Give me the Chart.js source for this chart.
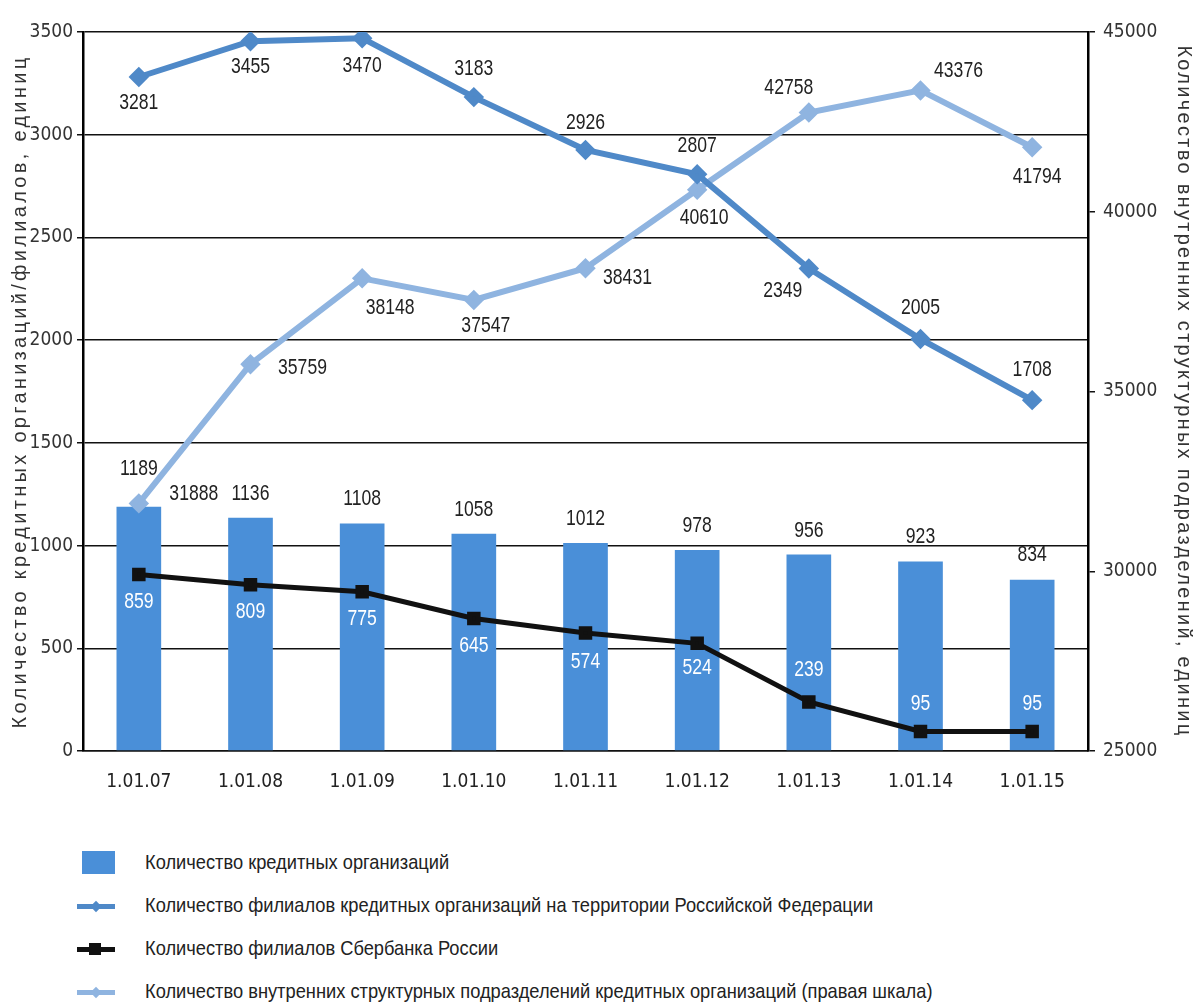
<!DOCTYPE html>
<html>
<head>
<meta charset="utf-8">
<script src="https://cdn.jsdelivr.net/npm/chart.js@4.4.1/dist/chart.umd.min.js"></script>
<style>
body{margin:0;background:#fff;}
#wrap{position:relative;width:1198px;height:1003px;}
#chartBox{position:absolute;left:0;top:0;width:1198px;height:830px;}
#legend{position:absolute;left:0;top:848px;width:1198px;}
.lrow{position:absolute;left:0;height:30px;width:1100px;}
.lico{position:absolute;left:77px;top:0;width:40px;height:30px;}
.ltxt{position:absolute;left:145px;top:2px;font:21px 'Liberation Sans',Arial,sans-serif;color:#222;white-space:nowrap;transform:scaleX(0.87);transform-origin:0 50%;}
</style>
</head>
<body>
<div id="wrap">
  <div id="chartBox"><canvas id="myChart" width="1198" height="830"></canvas></div>
  <div id="legend"></div>
</div>
<script>
const narrow="'Liberation Sans Narrow','DejaVu Sans Condensed','Arial Narrow',sans-serif"
const regular="'Liberation Sans',Arial,sans-serif"

// data
const categories=['1.01.07','1.01.08','1.01.09','1.01.10','1.01.11','1.01.12','1.01.13','1.01.14','1.01.15']
const creditOrgs=[1189,1136,1108,1058,1012,978,956,923,834]
const branchesRF=[3281,3455,3470,3183,2926,2807,2349,2005,1708]
const sberBranches=[859,809,775,645,574,524,239,95,95]
const internalUnits=[31888,35759,38148,37547,38431,40610,42758,43376,41794]

// where each value label sits relative to its point (px)
const orgLabelPos=[[0,-38],[0,-24],[0,-24],[0,-24],[0,-24],[0,-24],[0,-24],[0,-24],[0,-25]]
const branchLabelPos=[[0,26],[0,26],[0,28],[0,-28],[0,-27],[0,-28],[-26,22],[0,-31],[0,-30]]
const sberLabelPos=[[0,27],[0,27],[0,27],[0,27],[0,29],[0,25],[0,-32],[0,-28],[0,-28]]
const unitLabelPos=[[55,-9],[52,4],[28,30],[12,26],[42,10],[7,28],[-20,-25],[38,-19],[5,30]]

const ctx=document.getElementById('myChart')

const valueLabels={
  id:'valueLabels',
  afterDatasetsDraw(chart){
    const c=chart.ctx
    chart.data.datasets.forEach((ds,i)=>{
      const meta=chart.getDatasetMeta(i)
      meta.data.forEach((el,j)=>{
        const off=ds.labelPos[j]
        c.save()
        c.translate(el.x+off[0],el.y+off[1])
        c.scale(0.8,1)
        c.textAlign='center'
        c.textBaseline='middle'
        c.font='22px '+regular
        c.fillStyle=ds.labelColor
        c.fillText(ds.data[j],0,0)
        c.restore()
      })
    })
  }
}

let chart=new Chart(ctx,{
  type:'bar',
  data:{
    labels:categories,
    datasets:[
      {
        type:'line',
        label:'Количество филиалов Сбербанка России',
        data:sberBranches,
        yAxisID:'y',
        borderColor:'#111',
        backgroundColor:'#111',
        borderWidth:5,
        pointStyle:'rect',
        pointRadius:6,
        tension:0,
        order:1,
        labelPos:sberLabelPos,
        labelColor:'#fff',
        icon:'rect'
      },
      {
        type:'line',
        label:'Количество филиалов кредитных организаций на территории Российской  Федерации',
        data:branchesRF,
        yAxisID:'y',
        borderColor:'#4f89c8',
        backgroundColor:'#4f89c8',
        borderWidth:6,
        pointStyle:'rectRot',
        pointRadius:6,
        tension:0,
        order:2,
        labelPos:branchLabelPos,
        labelColor:'#222',
        icon:'diamond'
      },
      {
        type:'line',
        label:'Количество внутренних структурных подразделений кредитных организаций (правая шкала)',
        data:internalUnits,
        yAxisID:'y2',
        borderColor:'#8fb4e0',
        backgroundColor:'#8fb4e0',
        borderWidth:6,
        pointStyle:'rectRot',
        pointRadius:6,
        tension:0,
        order:3,
        labelPos:unitLabelPos,
        labelColor:'#222',
        icon:'diamond'
      },
      {
        type:'bar',
        label:'Количество кредитных организаций',
        data:creditOrgs,
        yAxisID:'y',
        backgroundColor:'#4a8fd8',
        borderWidth:0,
        categoryPercentage:1,
        barPercentage:0.4,
        order:4,
        labelPos:orgLabelPos,
        labelColor:'#222',
        icon:'box'
      }
    ]
  },
  options:{
    responsive:false,
    animation:false,
    layout:{padding:{top:32,left:0,right:0,bottom:0}},
    plugins:{legend:{display:false},tooltip:{enabled:false}},
    scales:{
      x:{
        grid:{display:false,drawTicks:false},
        border:{color:'#111',width:1.5},
        ticks:{color:'#222',font:{family:narrow,size:19},padding:20},
        afterFit(s){s.height=79}
      },
      y:{
        position:'left',
        min:0,max:3500,
        ticks:{stepSize:500,color:'#333',font:{family:narrow,size:19},padding:4,format:{useGrouping:false}},
        grid:{color:'#111',lineWidth:1.5,tickLength:6},
        border:{color:'#000',width:2.5},
        title:{display:true,text:'Количество кредитных организаций/филиалов, единиц',color:'#333',font:{family:regular,size:20},padding:{top:8,bottom:1}},
        afterFit(s){s.width=83}
      },
      y2:{
        position:'right',
        min:25000,max:45000,
        ticks:{stepSize:5000,color:'#333',font:{family:narrow,size:19},padding:8,format:{useGrouping:false}},
        grid:{drawOnChartArea:false,color:'#111',lineWidth:1.5,tickLength:7},
        border:{color:'#000',width:2.5},
        title:{display:true,text:'Количество внутренних структурных подразделений, единиц',color:'#333',font:{family:regular,size:20},padding:2},
        afterFit(s){s.width=110}
      }
    }
  },
  plugins:[valueLabels]
})

// the axis titles in the picture are letter-spaced
function spaceTitle(scale,px){
  const orig=scale.drawTitle.bind(scale)
  scale.drawTitle=function(){
    const c=this.ctx
    c.save()
    c.letterSpacing=px+'px'
    orig()
    c.restore()
  }
}
spaceTitle(chart.scales.y,3.3)
spaceTitle(chart.scales.y2,2.3)
chart.draw()

// legend, in the order of the picture
function drawIcon(cv,ds){
  let g=cv.getContext('2d')
  g.fillStyle=ds.backgroundColor
  if(ds.icon=='box'){g.fillRect(5,3,33,23);return}
  g.fillRect(0,13,38,5)
  if(ds.icon=='rect'){g.fillRect(12,9,12,12)}
  else{g.save();g.translate(19,15.5);g.rotate(Math.PI/4);g.fillRect(-4,-4,8,8);g.restore()}
}
let legendDiv=document.querySelector('#legend')
;[3,1,0,2].forEach((idx,row)=>{
  let ds=chart.data.datasets[idx]
  let r=document.createElement('div')
  r.className='lrow'
  r.style.top=(row*43)+'px'
  let cv=document.createElement('canvas')
  cv.width=40;cv.height=30;cv.className='lico'
  drawIcon(cv,ds)
  let t=document.createElement('div')
  t.className='ltxt'
  t.textContent=ds.label
  r.appendChild(cv);r.appendChild(t)
  legendDiv.appendChild(r)
})
</script>
</body>
</html>
